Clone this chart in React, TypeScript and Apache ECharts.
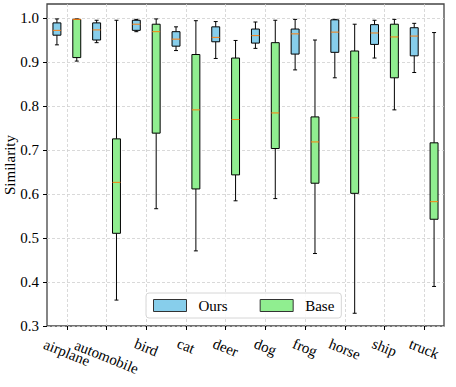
import React, { useEffect, useRef } from 'react';
import * as echarts from 'echarts';

const categories = ['airplane', 'automobile', 'bird', 'cat', 'deer', 'dog', 'frog', 'horse', 'ship', 'truck'];
const yTicks = [0.3, 0.4, 0.5, 0.6, 0.7, 0.8, 0.9, 1.0];

// each row: [min, q1, median, q3, max]
const oursStats = [
  [0.940, 0.962, 0.973, 0.990, 0.999],
  [0.945, 0.951, 0.974, 0.990, 0.996],
  [0.970, 0.973, 0.987, 0.996, 0.998],
  [0.927, 0.937, 0.953, 0.970, 0.981],
  [0.909, 0.947, 0.957, 0.981, 0.993],
  [0.932, 0.944, 0.961, 0.976, 0.992],
  [0.883, 0.919, 0.965, 0.976, 0.998],
  [0.865, 0.923, 0.969, 0.997, 0.998],
  [0.910, 0.941, 0.967, 0.986, 0.996],
  [0.877, 0.915, 0.960, 0.979, 0.989],
];
const baseStats = [
  [0.903, 0.911, 0.998, 0.998, 0.999],
  [0.359, 0.511, 0.627, 0.726, 0.996],
  [0.567, 0.739, 0.970, 0.987, 0.999],
  [0.471, 0.612, 0.792, 0.918, 0.995],
  [0.585, 0.644, 0.770, 0.910, 0.950],
  [0.590, 0.704, 0.785, 0.945, 0.996],
  [0.465, 0.625, 0.719, 0.776, 0.951],
  [0.329, 0.602, 0.774, 0.926, 0.987],
  [0.792, 0.865, 0.958, 0.987, 0.998],
  [0.390, 0.543, 0.583, 0.717, 0.968],
];

const FONT = "'Liberation Serif', 'Times New Roman', serif";
const OURS_COLOR = '#87CEEB';
const BASE_COLOR = '#90EE90';
const MEDIAN_COLOR = '#ff7f0e';
const LABEL_ROTATE = -22;

function measureText(text: string): number {
  try {
    const c = document.createElement('canvas');
    const ctx = c.getContext('2d');
    if (ctx) {
      ctx.font = "15px 'Liberation Serif'";
      return ctx.measureText(text).width;
    }
  } catch (e) {}
  return text.length * 6.5;
}

function makeSeries(name: string, stats: number[][], color: string, shift: number) {
  return {
    type: 'custom',
    name,
    data: stats.map((s, i) => [i, ...s]),
    encode: { x: 0, y: [1, 2, 3, 4, 5] },
    itemStyle: { color, borderColor: '#000', borderWidth: 1 },
    renderItem: (params: any, api: any) => {
      const i = api.value(0);
      const band = api.size([1, 0])[0];
      const cx = api.coord([i, 0.5])[0] + shift * band;
      const ys = [1, 2, 3, 4, 5].map((k) => api.coord([i, api.value(k)])[1]);
      const [yMin, yQ1, yMed, yQ3, yMax] = ys;
      const hw = 0.1 * band;
      const cw = 0.05 * band;
      const line = (x1: number, y1: number, x2: number, y2: number, stroke: string) => ({
        type: 'line',
        shape: { x1, y1, x2, y2 },
        style: { stroke, lineWidth: 1 },
      });
      return {
        type: 'group',
        children: [
          line(cx, yMax, cx, yQ3, '#000'),
          line(cx, yQ1, cx, yMin, '#000'),
          line(cx - cw, yMax, cx + cw, yMax, '#000'),
          line(cx - cw, yMin, cx + cw, yMin, '#000'),
          {
            type: 'rect',
            shape: { x: cx - hw, y: yQ3, width: 2 * hw, height: yQ1 - yQ3 },
            style: { fill: color, stroke: '#000', lineWidth: 1 },
          },
          line(cx - hw, yMed, cx + hw, yMed, MEDIAN_COLOR),
        ],
      };
    },
  };
}

export default function App() {
  const ref = useRef<HTMLDivElement>(null);

  useEffect(() => {
    if (!ref.current) return;
    const chart = echarts.init(ref.current, null, { renderer: 'svg' });

    const labelFont = { fontSize: 15, fontFamily: FONT, color: '#000' };
    // rotated labels centred under their tick, like matplotlib's rotated tick labels
    const t = (Math.abs(LABEL_ROTATE) * Math.PI) / 180;
    const xData = categories.map((c) => {
      const w = measureText(c);
      const p = 0.204 * w;
      const q = 2 * Math.tan(t) * (p + 7.5);
      return {
        value: c,
        textStyle: { ...labelFont, align: 'center', verticalAlign: 'top', padding: [p, 0, 0, q] },
      };
    });

    const gridLine = { show: true, lineStyle: { color: '#cfcfcf', type: [3, 2], width: 0.8 } };

    const option: any = {
      animation: false,
      backgroundColor: '#fff',
      grid: {
        left: 47,
        right: 12,
        top: 4,
        bottom: 61,
        containLabel: false,
        outerBoundsMode: 'none',
        show: true,
        borderColor: '#444',
        borderWidth: 1.3,
        backgroundColor: 'transparent',
      },
      legend: {
        left: 146,
        top: 293,
        orient: 'horizontal',
        itemWidth: 33,
        itemHeight: 12,
        itemGap: 32,
        padding: [5, 7, 5, 7],
        borderColor: '#d6d6d6',
        borderWidth: 1,
        borderRadius: 3,
        backgroundColor: 'rgba(255,255,255,0.85)',
        textStyle: { ...labelFont, padding: [0, 0, 0, 7] },
        data: [
          { name: 'Ours', icon: 'rect', itemStyle: { color: OURS_COLOR, borderColor: '#333', borderWidth: 1 } },
          { name: 'Base', icon: 'rect', itemStyle: { color: BASE_COLOR, borderColor: '#333', borderWidth: 1 } },
        ],
      },
      xAxis: {
        type: 'category',
        data: xData,
        boundaryGap: true,
        axisLine: { show: false },
        axisTick: { show: true, alignWithLabel: true, length: 4, lineStyle: { color: '#000', width: 1 } },
        splitLine: { ...gridLine, alignWithLabel: true },
        axisLabel: {
          interval: 0,
          rotate: LABEL_ROTATE,
          align: 'center',
          verticalAlign: 'top',
          margin: 8,
          hideOverlap: false,
          ...labelFont,
        },
      },
      yAxis: {
        type: 'value',
        min: 0.3,
        max: 1.033,
        interval: 0.1,
        name: 'Similarity',
        nameLocation: 'middle',
        nameGap: 30,
        nameMoveOverlap: false,
        nameTextStyle: labelFont,
        axisLine: { show: false },
        axisTick: { show: true, length: 4, customValues: yTicks, lineStyle: { color: '#000', width: 1 } },
        splitLine: gridLine,
        axisLabel: {
          customValues: yTicks,
          formatter: (v: number) => v.toFixed(1),
          margin: 8,
          ...labelFont,
        },
      },
      series: [
        makeSeries('Ours', oursStats, OURS_COLOR, -0.25),
        makeSeries('Base', baseStats, BASE_COLOR, 0.25),
      ],
    };

    chart.setOption(option);
    return () => {
      chart.dispose();
    };
  }, []);

  return (
    <div
      ref={ref}
      style={{ position: 'fixed', left: 0, top: 0, width: 456, height: 387, background: '#fff' }}
    />
  );
}
